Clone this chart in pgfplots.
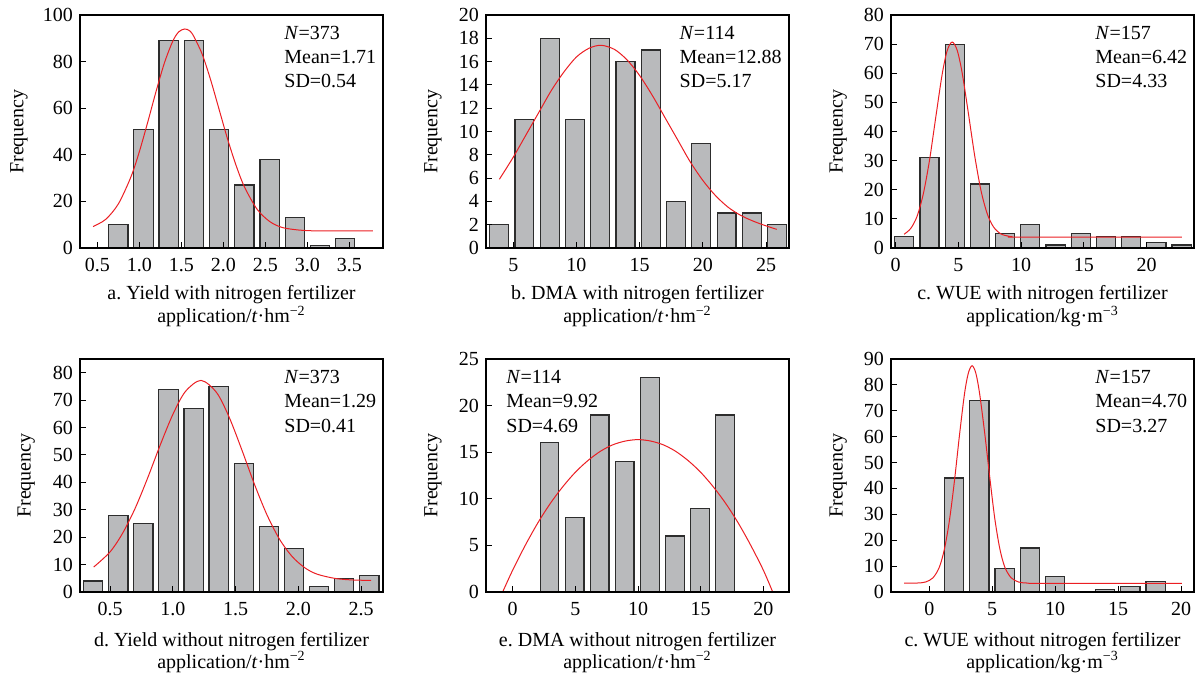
\documentclass[border=0pt]{standalone}
\usepackage{fontspec}
\setmainfont{Liberation Serif}
\usepackage{pgfplots}
\pgfplotsset{compat=1.18}
\frenchspacing

\definecolor{barfill}{RGB}{185,186,188}
\definecolor{baredge}{RGB}{45,45,45}
\definecolor{fitred}{RGB}{235,30,35}

\pgfplotsset{
  hist/.style={
    scale only axis, width=151.5pt, height=116.5pt, anchor=north west,
    axis on top, ymin=0,
    tick align=inside, xtick pos=bottom, ytick pos=left,
    major tick length=3pt, minor tick num=0,
    every tick/.style={black, line width=0.5pt},
    axis line style={line width=0.7pt},
    tick label style={font=\fontsize{10}{12}\selectfont},
    /pgf/number format/assume math mode=true,
    xticklabel style={yshift=-1.5pt},
  },
  onedec/.style={xticklabel style={/pgf/number format/fixed,
      /pgf/number format/fixed zerofill, /pgf/number format/precision=1}},
  bars/.style={ybar, bar shift=0pt, bar width=#1, fill=barfill,
    draw=baredge, line width=0.6pt},
  fit/.style={smooth, fitred, line width=0.5pt, no markers},
}

\begin{document}
\begin{tikzpicture}
\path[use as bounding box] (0,0) rectangle (599.5pt,-339pt);

% a. yield with N
\begin{axis}[hist, onedec, at={(40pt,-7.5pt)},
  xmin=0.294, xmax=3.90, ymax=100,
  xtick={0.5,1,1.5,2,2.5,3,3.5}, ytick={0,20,40,60,80,100}]
\addplot[bars=0.23] coordinates {
  (0.75,10)(1.05,51)(1.35,89)(1.65,89)(1.95,51)(2.25,27)(2.55,38)(2.85,13)(3.15,1)(3.45,4)};
\addplot[fit] coordinates {
  (0.45,9.2)(0.6,12.3)(0.75,18.9)(0.9,30.5)(1.0,41.3)(1.1,54.0)(1.2,67.3)(1.3,79.6)
  (1.4,88.9)(1.47,92.8)(1.54,94.0)(1.6,93.2)(1.65,90.7)(1.75,83.0)(1.85,72.0)(1.95,59.4)
  (2.05,46.8)(2.15,35.6)(2.25,26.3)(2.4,16.7)(2.55,11.4)(2.7,8.8)(2.9,7.7)(3.1,7.35)
  (3.4,7.3)(3.78,7.3)};
\end{axis}

% b. DMA with N
\begin{axis}[hist, at={(243pt,-7.5pt)},
  xmin=2.84, xmax=26.82, ymax=20,
  xtick={5,10,15,20,25}, ytick={0,2,...,20}]
\addplot[bars=1.5] coordinates {
  (3.88,2)(5.88,11)(7.88,18)(9.88,11)(11.88,18)(13.88,16)(15.88,17)(17.88,4)
  (19.88,9)(21.88,3)(23.88,3)(25.88,2)};
\addplot[fit] coordinates {
  (3.9,5.9)(5,7.8)(6,9.7)(7,11.6)(8,13.5)(9,15.1)(10,16.4)(11,17.15)(11.95,17.4)
  (13,17.05)(14,16.15)(15,14.8)(16,13.1)(17,11.2)(18,9.3)(19,7.4)(20,5.8)(21,4.5)
  (22,3.5)(23,2.8)(24,2.3)(25,1.9)(25.85,1.6)};
\end{axis}

% c. WUE with N
\begin{axis}[hist, at={(445.5pt,-7.5pt)},
  xmin=-0.37, xmax=23.77, ymax=80,
  xtick={0,5,10,15,20}, ytick={0,10,...,80}]
\addplot[bars=1.52] coordinates {
  (0.69,4)(2.70,31)(4.71,70)(6.71,22)(8.72,5)(10.73,8)(12.74,1)(14.75,5)
  (16.75,4)(18.76,4)(20.77,2)(22.78,1)};
\addplot[fit] coordinates {
  (0.67,4.7)(1.2,6.7)(1.7,10.8)(2.2,18.5)(2.7,30.2)(3.2,45.0)(3.7,59.5)(4.1,67.7)
  (4.5,70.7)(4.9,67.9)(5.3,60.1)(5.8,46.1)(6.3,31.6)(6.8,19.7)(7.3,11.7)(7.8,7.2)
  (8.4,4.8)(9.2,3.9)(10,3.7)(22.8,3.7)};
\end{axis}

% d. yield without N
\begin{axis}[hist, onedec, at={(40pt,-179.5pt)},
  xmin=0.261, xmax=2.675, ymax=85,
  xtick={0.5,1,1.5,2,2.5}, ytick={0,10,...,80}]
\addplot[bars=0.154] coordinates {
  (0.366,4)(0.566,28)(0.766,25)(0.966,74)(1.166,67)(1.366,75)(1.566,47)(1.766,24)
  (1.966,16)(2.166,2)(2.366,5)(2.566,6)};
\addplot[fit] coordinates {
  (0.37,9.1)(0.5,14.6)(0.6,21.4)(0.7,30.5)(0.8,41.6)(0.9,53.6)(1.0,64.7)(1.1,73.1)
  (1.225,77.2)(1.35,72.7)(1.45,63.7)(1.55,51.9)(1.65,39.4)(1.75,28.2)(1.85,19.3)
  (1.95,13.0)(2.05,8.9)(2.15,6.5)(2.3,4.9)(2.45,4.35)(2.58,4.25)};
\end{axis}

% e. DMA without N
\begin{axis}[hist, at={(243pt,-179.5pt)},
  xmin=-2.13, xmax=22.05, ymax=25,
  xtick={0,5,10,15,20}, ytick={0,5,...,25}]
\addplot[bars=1.49] coordinates {
  (2.94,16)(4.94,8)(6.94,19)(8.94,14)(10.94,23)(12.94,6)(14.94,9)(16.94,19)};
\addplot[fit] coordinates {
  (-0.8,0)(0,2.35)(1,5.0)(2,7.4)(3,9.5)(4,11.3)(5,12.85)(6,14.1)(7,15.1)(8,15.8)
  (9,16.2)(10,16.35)(11,16.2)(12,15.8)(13,15.1)(14,14.1)(15,12.85)(16,11.3)(17,9.5)
  (18,7.4)(19,5.0)(20,2.35)(20.75,0)};
\end{axis}

% f. WUE without N
\begin{axis}[hist, at={(445.5pt,-179.5pt)},
  xmin=-3.04, xmax=21.03, ymax=90,
  xtick={0,5,10,15,20}, ytick={0,10,...,90}]
\addplot[bars=1.53] coordinates {
  (1.98,44)(3.98,74)(5.98,9)(7.98,17)(9.98,6)(13.98,1)(15.98,2)(17.98,4)};
\addplot[fit] coordinates {
  (-2,3.4)(-1,3.45)(-0.3,3.85)(0.3,5.5)(0.8,9.6)(1.2,16.5)(1.6,27.6)(2.0,42.9)
  (2.4,60.6)(2.8,76.6)(3.1,84.5)(3.4,87.4)(3.7,84.5)(4.0,76.6)(4.4,61.5)(4.8,44.5)
  (5.2,28.5)(5.6,16.8)(6.0,9.6)(6.5,5.5)(7.1,3.85)(7.8,3.45)(9,3.35)(20.06,3.3)};
\end{axis}

% y labels
\begin{scope}[every node/.style={rotate=90, anchor=base, inner sep=0pt}]
\node at (11.65pt,-65.75pt) {Frequency};
\node at (218.65pt,-65.75pt) {Frequency};
\node at (421.25pt,-65.75pt) {Frequency};
\node at (15.35pt,-237.75pt) {Frequency};
\node at (218.65pt,-237.75pt) {Frequency};
\node at (421.25pt,-237.75pt) {Frequency};
\end{scope}

% statistics
\begin{scope}[every node/.style={anchor=base west, inner sep=0pt}]
\node at (142pt,-20pt) {\textit{N}=373};
\node at (142pt,-32pt) {Mean=1.71};
\node at (142pt,-44pt) {SD=0.54};
\node at (339.65pt,-20pt) {\textit{N}=114};
\node at (339.65pt,-32pt) {Mean=12.88};
\node at (339.65pt,-44pt) {SD=5.17};
\node at (547.5pt,-20pt) {\textit{N}=157};
\node at (547.5pt,-32pt) {Mean=6.42};
\node at (547.5pt,-44pt) {SD=4.33};
\node at (142pt,-192pt) {\textit{N}=373};
\node at (142pt,-204pt) {Mean=1.29};
\node at (142pt,-216pt) {SD=0.41};
\node at (253pt,-192pt) {\textit{N}=114};
\node at (253pt,-204pt) {Mean=9.92};
\node at (253pt,-216pt) {SD=4.69};
\node at (547.5pt,-192pt) {\textit{N}=157};
\node at (547.5pt,-204pt) {Mean=4.70};
\node at (547.5pt,-216pt) {SD=3.27};
\end{scope}

% x labels
\begin{scope}[every node/.style={anchor=base, inner sep=0pt}]
\node at (115.75pt,-150pt) {a. Yield with nitrogen fertilizer};
\node at (115.75pt,-161.5pt) {application/\textit{t}·hm\textsuperscript{−2}};
\node at (318.75pt,-150pt) {b. DMA with nitrogen fertilizer};
\node at (318.75pt,-161.5pt) {application/\textit{t}·hm\textsuperscript{−2}};
\node at (521.25pt,-150pt) {c. WUE with nitrogen fertilizer};
\node at (521.25pt,-161.5pt) {application/kg·m\textsuperscript{−3}};
\node at (115.75pt,-323pt) {d. Yield without nitrogen fertilizer};
\node at (115.75pt,-334pt) {application/\textit{t}·hm\textsuperscript{−2}};
\node at (318.75pt,-323pt) {e. DMA without nitrogen fertilizer};
\node at (318.75pt,-334pt) {application/\textit{t}·hm\textsuperscript{−2}};
\node at (521.25pt,-323pt) {c. WUE without nitrogen fertilizer};
\node at (521.25pt,-334pt) {application/kg·m\textsuperscript{−3}};
\end{scope}
\end{tikzpicture}
\end{document}
